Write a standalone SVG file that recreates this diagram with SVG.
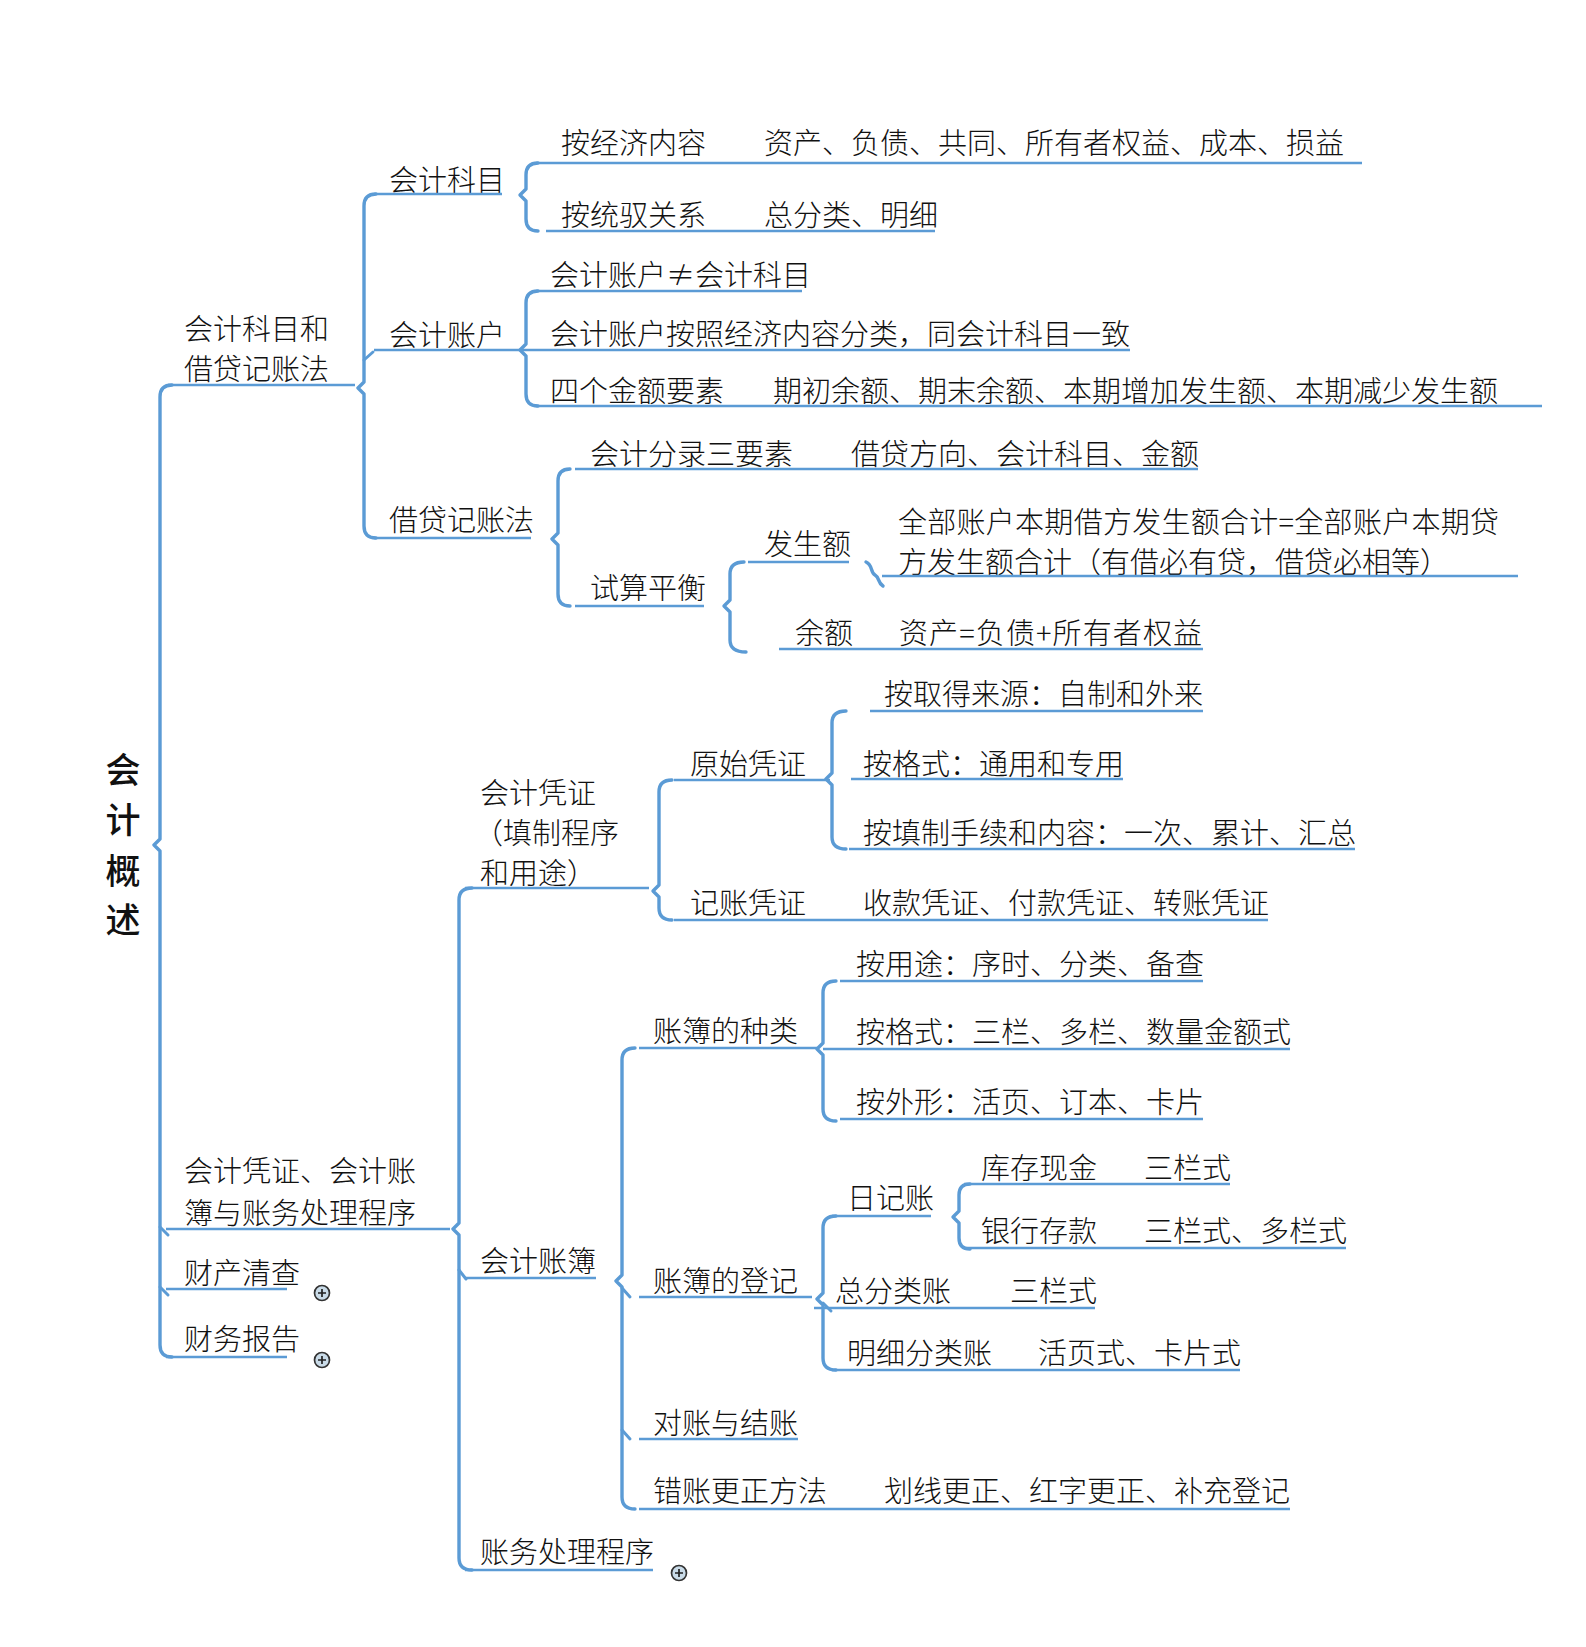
<svg xmlns="http://www.w3.org/2000/svg" width="1586" height="1647" viewBox="0 0 1586 1647">
<style>
text{font-family:"Noto Sans CJK SC","Liberation Sans",sans-serif;font-size:29px;fill:#111;font-weight:300}
.root{font-size:35px;font-weight:500;text-anchor:middle}
.ul{stroke:#5b9bd5;stroke-width:2.6;fill:none}
.br{stroke:#5b9bd5;stroke-width:3.4;fill:none;stroke-linejoin:round;stroke-linecap:round}
.tk{stroke:#5b9bd5;stroke-width:3;fill:none;stroke-linecap:round}
.plus circle{fill:#c9dbe8;stroke:#333;stroke-width:1.7}
.plus path{stroke:#222;stroke-width:1.7}
</style>
<rect width="1586" height="1647" fill="#fff"/>

<g id="connectors">
  <path class="br" d="M172,385 Q160,385 160,397 L160,839 L154,845 L160,851 L160,1345 Q160,1357 172,1357"/>
  <path class="tk" d="M160,1227 L168,1235"/>
  <path class="tk" d="M160,1287 L168,1295"/>
  <path class="br" d="M376,194 Q364,194 364,206 L364,382 L358,388 L364,394 L364,526 Q364,538 376,538"/>
  <path class="tk" d="M364,360 L373,352"/>
  <path class="br" d="M538,163 Q526,163 526,175 L526,189 L520,195 L526,201 L526,219 Q526,231 538,231"/>
  <path class="br" d="M538,291 Q526,291 526,303 L526,344 L520,350 L526,356 L526,394 Q526,406 538,406"/>
  <path class="br" d="M570,469 Q558,469 558,481 L558,533 L552,539 L558,545 L558,594 Q558,606 570,606"/>
  <path class="br" d="M744,562 Q730,562 730,574 L730,600 L724,606 L730,612 L730,640 Q730,652 746,652"/>
  <path class="br" d="M866,562 C873,565 870,572 875,575 C880,578 877,582 883,586"/>
  <path class="br" d="M672,780 Q659,780 659,792 L659,885 L653,891 L659,897 L659,908 Q659,920 672,920"/>
  <path class="br" d="M846,711 Q832,711 832,723 L832,773 L826,779 L832,785 L832,837 Q832,849 846,849"/>
  <path class="br" d="M472,888 Q459,888 459,900 L459,1223 L453,1229 L459,1235 L459,1558 Q459,1570 472,1570"/>
  <path class="tk" d="M459,1270 L466,1279"/>
  <path class="br" d="M635,1048 Q622,1048 622,1060 L622,1275 L616,1281 L622,1287 L622,1497 Q622,1509 635,1509"/>
  <path class="tk" d="M622,1288 L630,1297"/>
  <path class="tk" d="M622,1430 L630,1439"/>
  <path class="br" d="M836,981 Q823,981 823,993 L823,1043 L817,1049 L823,1055 L823,1109 Q823,1121 836,1121"/>
  <path class="br" d="M836,1216 Q823,1216 823,1228 L823,1293 L817,1299 L823,1305 L823,1358 Q823,1370 836,1370"/>
  <path class="tk" d="M823,1303 L831,1311"/>
  <path class="br" d="M970,1184 Q959,1184 959,1195 L959,1211 L953,1217 L959,1223 L959,1238 Q959,1249 970,1249"/>
</g>

<g id="root"><text class="root" x="123" y="783">会</text><text class="root" x="123" y="833">计</text><text class="root" x="123" y="884">概</text><text class="root" x="123" y="933">述</text></g>

<g id="n-kmjd"><text x="184" y="340">会计科目和</text><text x="184" y="380">借贷记账法</text><path class="ul" d="M168,385 H355"/></g>
<g id="n-kjkm"><text x="389" y="191">会计科目</text><path class="ul" d="M374,194 H502"/></g>
<g id="n-jjnr"><text x="561" y="154">按经济内容</text><text x="764" y="154">资产、负债、共同、所有者权益、成本、损益</text><path class="ul" d="M536,163 H1362"/></g>
<g id="n-tygx"><text x="561" y="226">按统驭关系</text><text x="764" y="226">总分类、明细</text><path class="ul" d="M546,231 H935"/></g>
<g id="n-kjzh"><text x="389" y="346">会计账户</text><path class="ul" d="M374,350 H526"/></g>
<g id="n-neq"><text x="550" y="286">会计账户≠会计科目</text><path class="ul" d="M536,291 H802"/></g>
<g id="n-flei"><text x="550" y="345">会计账户按照经济内容分类，同会计科目一致</text><path class="ul" d="M526,350 H1130"/></g>
<g id="n-sgje"><text x="550" y="402">四个金额要素</text><text x="773" y="402">期初余额、期末余额、本期增加发生额、本期减少发生额</text><path class="ul" d="M536,406 H1542"/></g>
<g id="n-jdjz"><text x="389" y="531">借贷记账法</text><path class="ul" d="M374,538 H531"/></g>
<g id="n-flsys"><text x="590" y="465">会计分录三要素</text><text x="851" y="465">借贷方向、会计科目、金额</text><path class="ul" d="M575,469 H1198"/></g>
<g id="n-sspy"><text x="590" y="599">试算平衡</text><path class="ul" d="M575,606 H704"/></g>
<g id="n-fse"><text x="764" y="555">发生额</text><path class="ul" d="M748,562 H849"/></g>
<g id="n-fsehj"><text x="898" y="533" textLength="601" lengthAdjust="spacing">全部账户本期借方发生额合计=全部账户本期贷</text><text x="898" y="573">方发生额合计（有借必有贷，借贷必相等）</text><path class="ul" d="M882,576 H1518"/></g>
<g id="n-ye"><text x="795" y="644">余额</text><text x="899" y="644" textLength="303" lengthAdjust="spacing">资产=负债+所有者权益</text><path class="ul" d="M779,649 H1203"/></g>

<g id="n-pzzb"><text x="184" y="1182">会计凭证、会计账</text><text x="184" y="1224">簿与账务处理程序</text><path class="ul" d="M166,1229 H450"/></g>
<g id="n-ccqc"><text x="184" y="1284">财产清查</text><path class="ul" d="M166,1289 H287"/><g class="plus"><circle cx="322" cy="1293" r="7.5"/><path d="M318,1293 H326 M322,1289 V1297"/></g></g>
<g id="n-cwbg"><text x="184" y="1350">财务报告</text><path class="ul" d="M166,1357 H287"/><g class="plus"><circle cx="322" cy="1360" r="7.5"/><path d="M318,1360 H326 M322,1356 V1364"/></g></g>

<g id="n-kjpz"><text x="480" y="804">会计凭证</text><text x="474" y="844">（填制程序</text><text x="480" y="884">和用途）</text><path class="ul" d="M465,888 H649"/></g>
<g id="n-yspz"><text x="690" y="775">原始凭证</text><path class="ul" d="M674,780 H830"/></g>
<g id="n-qdly"><text x="884" y="705">按取得来源：自制和外来</text><path class="ul" d="M870,711 H1203"/></g>
<g id="n-gs1"><text x="863" y="775">按格式：通用和专用</text><path class="ul" d="M851,779 H1123"/></g>
<g id="n-tzsx"><text x="863" y="844">按填制手续和内容：一次、累计、汇总</text><path class="ul" d="M849,849 H1355"/></g>
<g id="n-jzpz"><text x="690" y="914">记账凭证</text><text x="863" y="914">收款凭证、付款凭证、转账凭证</text><path class="ul" d="M674,920 H1268"/></g>

<g id="n-kjzb"><text x="480" y="1272">会计账簿</text><path class="ul" d="M465,1278 H596"/></g>
<g id="n-zbzl"><text x="653" y="1042">账簿的种类</text><path class="ul" d="M639,1048 H817"/></g>
<g id="n-yt"><text x="856" y="975">按用途：序时、分类、备查</text><path class="ul" d="M840,981 H1203"/></g>
<g id="n-gs2"><text x="856" y="1043">按格式：三栏、多栏、数量金额式</text><path class="ul" d="M823,1049 H1290"/></g>
<g id="n-wx"><text x="856" y="1113">按外形：活页、订本、卡片</text><path class="ul" d="M840,1119 H1203"/></g>
<g id="n-zbdj"><text x="653" y="1292">账簿的登记</text><path class="ul" d="M639,1297 H812"/></g>
<g id="n-rjz"><text x="847" y="1209">日记账</text><path class="ul" d="M832,1216 H931"/></g>
<g id="n-kcxj"><text x="981" y="1179">库存现金</text><text x="1144" y="1179">三栏式</text><path class="ul" d="M964,1184 H1230"/></g>
<g id="n-yhck"><text x="981" y="1242">银行存款</text><text x="1144" y="1242">三栏式、多栏式</text><path class="ul" d="M964,1248 H1346"/></g>
<g id="n-zflz"><text x="835" y="1302">总分类账</text><text x="1010" y="1302">三栏式</text><path class="ul" d="M814,1308 H1095"/></g>
<g id="n-mxflz"><text x="847" y="1364">明细分类账</text><text x="1038" y="1364">活页式、卡片式</text><path class="ul" d="M832,1370 H1240"/></g>
<g id="n-dzjz"><text x="653" y="1434">对账与结账</text><path class="ul" d="M639,1439 H798"/></g>
<g id="n-czgz"><text x="653" y="1502">错账更正方法</text><text x="884" y="1502">划线更正、红字更正、补充登记</text><path class="ul" d="M639,1509 H1290"/></g>
<g id="n-zwcl"><text x="480" y="1563">账务处理程序</text><path class="ul" d="M465,1570 H653"/><g class="plus"><circle cx="679" cy="1573" r="7.5"/><path d="M675,1573 H683 M679,1569 V1577"/></g></g>
</svg>
